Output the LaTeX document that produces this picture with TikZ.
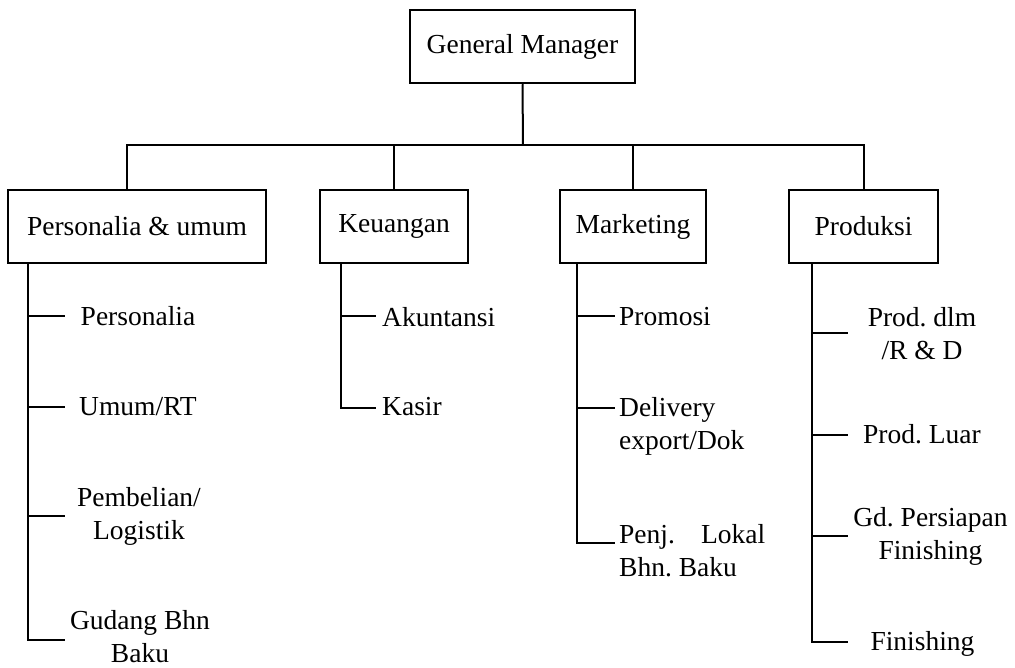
\documentclass[tikz,border=0pt]{standalone}
\usepackage{fontspec}
\setmainfont{Liberation Serif}
\usetikzlibrary{positioning,calc}
\frenchspacing

\begin{document}
\begin{tikzpicture}[x=1pt, y=-1pt,
    every node/.append style={font=\fontsize{27.5}{33}\selectfont, inner sep=0pt},
    unit/.style={draw, line width=2.5pt, minimum height=73pt},
    link/.style={line width=2pt},
    sub/.style={align=center, anchor=north},
    subl/.style={align=left, anchor=north west}]
  \useasboundingbox (0,0) rectangle (1015,668);

  % top level
  \node (GM) [unit, minimum width=225pt] at (522.5,46.5) {General Manager};
  \node (PU) [unit, minimum width=258pt] at (137,226.5) {Personalia \& umum};
  \node (KEU) [unit, minimum width=148pt] at (394,226.5) {Keuangan};
  \node (MKT) [unit, minimum width=146pt] at (633,226.5) {Marketing};
  \node (PROD) [unit, minimum width=149pt] at (863.5,226.5) {Produksi};

  \coordinate (bus) at (523,145);
  \coordinate (pu-top) at (127,190);
  \draw[link] (GM.south) -- (bus);
  \draw[link] (pu-top) |- (bus) -| (PROD.north);
  \draw[link] (KEU.north) -- (KEU.north |- bus);
  \draw[link] (MKT.north) -- (MKT.north |- bus);

  % Personalia & umum
  \node (pu1) [sub] at (138,306.5) {Personalia};
  \node (pu2) [sub] at (138,397.5) {Umum/RT};
  \node (pu3) [sub] at (139,487.5) {Pembelian/\\Logistik};
  \node (pu4) [sub] at (140,610) {Gudang Bhn\\Baku};
  \coordinate (pu-spine) at (28,263);
  \coordinate (t-pu1) at (65,316);
  \coordinate (t-pu2) at (65,407);
  \coordinate (t-pu3) at (65,516);
  \coordinate (t-pu4) at (65,640);
  \draw[link] (pu-spine) |- (t-pu4);
  \draw[link] (pu-spine |- t-pu1) -- (t-pu1);
  \draw[link] (pu-spine |- t-pu2) -- (t-pu2);
  \draw[link] (pu-spine |- t-pu3) -- (t-pu3);

  % Keuangan
  \node (keu1) [subl] at (382,307.5) {Akuntansi};
  \node (keu2) [subl] at (382,397.5) {Kasir};
  \coordinate (keu-spine) at (341,263);
  \coordinate (t-keu1) at (376,316);
  \coordinate (t-keu2) at (376,408);
  \draw[link] (keu-spine) |- (t-keu2);
  \draw[link] (keu-spine |- t-keu1) -- (t-keu1);

  % Marketing
  \node (mkt1) [subl] at (619,307.5) {Promosi};
  \node (mkt2) [subl] at (619,397.5) {Delivery\\export/Dok};
  \node (mkt3) [subl] at (619,524.5) {Penj.\hspace{0.95em}Lokal\\Bhn. Baku};
  \coordinate (mkt-spine) at (577,263);
  \coordinate (t-mkt1) at (615,316);
  \coordinate (t-mkt2) at (615,408);
  \coordinate (t-mkt3) at (615,543);
  \draw[link] (mkt-spine) |- (t-mkt3);
  \draw[link] (mkt-spine |- t-mkt1) -- (t-mkt1);
  \draw[link] (mkt-spine |- t-mkt2) -- (t-mkt2);

  % Produksi
  \node (prod1) [sub] at (922,307.5) {Prod. dlm\\/R \& D};
  \node (prod2) [sub] at (922,424.5) {Prod. Luar};
  \node (prod3) [sub] at (930.5,507.5) {Gd. Persiapan\\Finishing};
  \node (prod4) [sub] at (922.5,631.5) {Finishing};
  \coordinate (prod-spine) at (812,263);
  \coordinate (t-prod1) at (848,333);
  \coordinate (t-prod2) at (848,435);
  \coordinate (t-prod3) at (848,536);
  \coordinate (t-prod4) at (848,642);
  \draw[link] (prod-spine) |- (t-prod4);
  \draw[link] (prod-spine |- t-prod1) -- (t-prod1);
  \draw[link] (prod-spine |- t-prod2) -- (t-prod2);
  \draw[link] (prod-spine |- t-prod3) -- (t-prod3);
\end{tikzpicture}
\end{document}
